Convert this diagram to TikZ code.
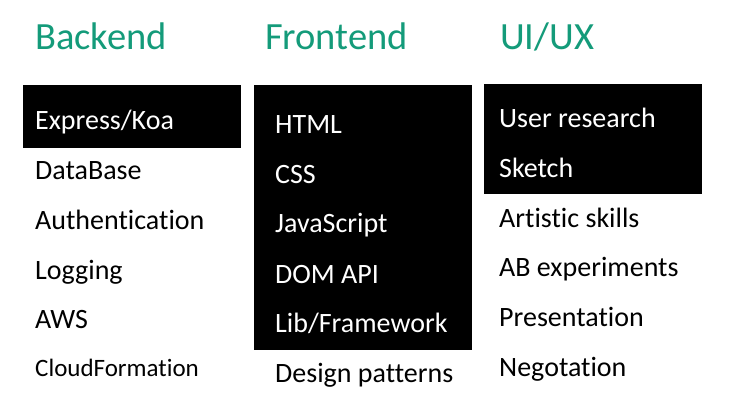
\documentclass[tikz,border=0pt]{standalone}
\usepackage{fontspec}
\setmainfont{Carlito}[Ligatures=NoCommon]
\definecolor{headgreen}{RGB}{20,155,122}
\begin{document}
\begin{tikzpicture}[x=1pt,y=-1pt,
  heading/.style={anchor=base west,inner sep=0pt,text=headgreen,font=\fontsize{38.5}{42}\selectfont},
  item/.style={anchor=base west,inner sep=0pt,text=black,font=\fontsize{28}{32}\selectfont},
  smallitem/.style={anchor=base west,inner sep=0pt,text=black,font=\fontsize{25}{28}\selectfont},
  initem/.style={item,text=white},
  blackbox/.style={fill=black,draw=none}]
\useasboundingbox (0,0) rectangle (729,416);
\fill[white] (0,0) rectangle (729,416);
% black boxes
\path[blackbox] (23,85) rectangle (241,148);
\path[blackbox] (254,85) rectangle (472,350);
\path[blackbox] (484,84) rectangle (702,194);
% headings
\node[heading] (hb) at (35,49) {Backend};
\node[heading] (hf) at (265,49) {Frontend};
\node[heading] (hu) at (500,49) {UI/UX};
% Backend
\node[initem] (b1) at (35,129) {Express/Koa};
\node[item] (b2) at (35,179) {DataBase};
\node[item] (b3) at (35,229) {Authentication};
\node[item] (b4) at (35,279) {Logging};
\node[item] (b5) at (35,328) {AWS};
\node[smallitem] (b6) at (35,376) {CloudFormation};
% Frontend
\node[initem] (f1) at (275,133) {HTML};
\node[initem] (f2) at (275,183) {CSS};
\node[initem] (f3) at (275,232) {JavaScript};
\node[initem] (f4) at (275,283) {DOM API};
\node[initem] (f5) at (275,332) {Lib/Framework};
\node[item] (f6) at (275,382) {Design patterns};
% UI/UX
\node[initem] (u1) at (499,127) {User research};
\node[initem] (u2) at (499,177) {Sketch};
\node[item] (u3) at (499,227) {Artistic skills};
\node[item] (u4) at (499,276) {AB experiments};
\node[item] (u5) at (499,326) {Presentation};
\node[item] (u6) at (499,376) {Negotation};
\end{tikzpicture}
\end{document}
